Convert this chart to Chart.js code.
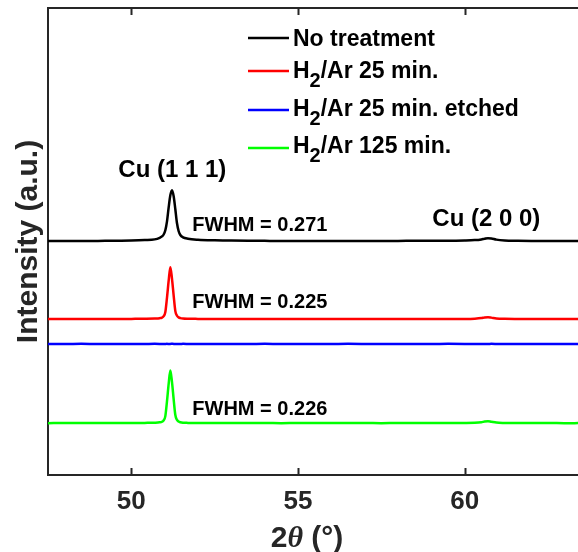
<!DOCTYPE html>
<html>
<head>
<meta charset="utf-8">
<title>XRD Cu peaks</title>
<script src="https://cdn.jsdelivr.net/npm/chart.js@4.4.0/dist/chart.umd.min.js"></script>
<style>
  body { margin: 0; background: #fff; overflow: hidden; }
  canvas { display: block; }
</style>
</head>
<body>
<canvas id="xrd" width="578" height="552"></canvas>
<script>
// 2-theta positions (deg), denser around the Cu (111) and Cu (200) reflections
var twoTheta = [47.5, 48.0, 48.5, 49.0, 49.5, 50.0, 50.4, 50.7, 50.85, 50.92,
  50.97, 51.02, 51.07, 51.12, 51.17, 51.22, 51.27, 51.32, 51.37, 51.42,
  51.47, 51.55, 51.7, 52.0, 52.5, 53.0, 53.5, 54.0, 54.5, 55.0,
  55.5, 56.0, 56.5, 57.0, 57.5, 58.0, 58.5, 59.0, 59.5, 60.0,
  60.3, 60.5, 60.6, 60.7, 60.8, 60.95, 61.2, 61.6, 62.0, 62.5,
  63.0, 63.4];

// intensities above each trace's own baseline (a.u.)
var noTreatment = [0.00, 0.02, 0.00, 0.03, 0.05, 0.10, 0.20, 0.35, 0.70, 1.0,
  1.4, 2.3, 4.2, 7.2, 9.8, 10.9, 9.6, 6.8, 3.8, 2.1,
  1.3, 0.8, 0.5, 0.28, 0.15, 0.10, 0.06, 0.04, 0.02, 0.03,
  0.01, 0.02, 0.00, 0.02, 0.01, 0.03, 0.04, 0.06, 0.08, 0.12,
  0.20, 0.35, 0.50, 0.62, 0.55, 0.30, 0.12, 0.06, 0.03, 0.02,
  0.01, 0.00];
var h2Ar25 = [0.00, 0.02, 0.00, 0.02, 0.01, 0.03, 0.05, 0.10, 0.18, 0.30,
  0.6, 1.5, 4.6, 8.2, 11.1, 8.6, 5.0, 1.7, 0.7, 0.35,
  0.20, 0.10, 0.05, 0.03, 0.02, 0.01, 0.03, 0.01, 0.02, 0.00,
  0.02, 0.01, 0.03, 0.01, 0.02, 0.00, 0.02, 0.01, 0.02, 0.03,
  0.08, 0.20, 0.35, 0.40, 0.30, 0.12, 0.04, 0.02, 0.01, 0.02,
  0.00, 0.01];
var h2Ar25Etched = [0.02, 0.00, 0.03, 0.01, 0.02, 0.00, 0.01, 0.03, 0.02, 0.00,
  0.01, 0.02, 0.03, 0.01, 0.02, 0.04, 0.02, 0.01, 0.00, 0.02,
  0.01, 0.03, 0.02, 0.00, 0.01, 0.02, 0.00, 0.03, 0.01, 0.02,
  0.00, 0.01, 0.03, 0.02, 0.00, 0.01, 0.02, 0.01, 0.03, 0.02,
  0.00, 0.01, 0.02, 0.01, 0.03, 0.02, 0.00, 0.01, 0.02, 0.00,
  0.01, 0.02];
var h2Ar125 = [0.00, 0.03, 0.01, 0.02, 0.04, 0.03, 0.06, 0.10, 0.18, 0.30,
  0.6, 1.5, 4.7, 8.4, 11.3, 8.8, 5.1, 1.75, 0.7, 0.35,
  0.20, 0.10, 0.06, 0.04, 0.02, 0.03, 0.01, 0.02, 0.00, 0.02,
  0.01, 0.03, 0.01, 0.02, 0.00, 0.02, 0.01, 0.02, 0.03, 0.04,
  0.08, 0.20, 0.35, 0.42, 0.30, 0.12, 0.05, 0.02, 0.01, 0.02,
  0.00, 0.01];

var seriesLabels = ["No treatment", "H_2/Ar 25 min.", "H_2/Ar 25 min. etched", "H_2/Ar 125 min."];
var seriesColors = ["#000000", "#ff0000", "#0000ff", "#00ff00"];
var seriesOffsets = [50.1, 33.4, 28.05, 11.1];
var xTicks = [50, 55, 60];

var peakNames = ["Cu (1 1 1)", "Cu (2 0 0)"];
var peakNamePos = [[51.23, 65.3], [60.65, 54.8]];
var fwhmValues = [0.271, 0.225, 0.226];
var fwhmPos = [[51.83, 53.5], [51.83, 37.0], [51.83, 14.1]];

var axisColor = "#262626";
var sans = "'Liberation Sans', Arial, Helvetica, sans-serif";

var allSeries = [noTreatment, h2Ar25, h2Ar25Etched, h2Ar125];
var datasets = allSeries.map(function (vals, k) {
  return {
    label: seriesLabels[k],
    data: twoTheta.map(function (x, i) { return { x: x, y: seriesOffsets[k] + vals[i] }; }),
    borderColor: seriesColors[k],
    borderWidth: 2.5,
    pointRadius: 0,
    fill: false,
    cubicInterpolationMode: "monotone"
  };
});

// text with "_2" style subscripts
function drawRichText(ctx, str, x, y, size) {
  var parts = str.split(/_(\d)/);
  for (var i = 0; i < parts.length; i++) {
    if (!parts[i]) continue;
    var sub = i % 2 === 1;
    ctx.font = "bold " + (sub ? size - 3 : size) + "px " + sans;
    ctx.fillText(parts[i], x, sub ? y + 9 : y);
    x += ctx.measureText(parts[i]).width;
  }
}

var decorations = {
  id: "decorations",
  afterDraw: function (chart) {
    var ctx = chart.ctx, area = chart.chartArea;
    var xs = chart.scales.x, ys = chart.scales.y;
    ctx.save();

    // top frame and inward ticks
    ctx.strokeStyle = axisColor;
    ctx.lineWidth = 2;
    ctx.beginPath();
    ctx.moveTo(area.left, area.top);
    ctx.lineTo(area.right, area.top);
    xTicks.forEach(function (v) {
      var px = Math.round(xs.getPixelForValue(v)) + 0.5;
      ctx.moveTo(px, area.bottom);
      ctx.lineTo(px, area.bottom - 7);
      ctx.moveTo(px, area.top);
      ctx.lineTo(px, area.top + 7);
    });
    ctx.stroke();

    // peak names and FWHM notes
    ctx.fillStyle = "#000";
    ctx.textBaseline = "middle";
    ctx.textAlign = "center";
    ctx.font = "bold 24px " + sans;
    peakNames.forEach(function (t, i) {
      ctx.fillText(t, xs.getPixelForValue(peakNamePos[i][0]), ys.getPixelForValue(peakNamePos[i][1]));
    });
    ctx.textAlign = "left";
    ctx.font = "bold 20px " + sans;
    fwhmValues.forEach(function (v, i) {
      ctx.fillText("FWHM = " + v.toFixed(3), xs.getPixelForValue(fwhmPos[i][0]), ys.getPixelForValue(fwhmPos[i][1]));
    });

    // legend
    var rowLine = [38, 71, 110, 148];
    var rowBase = [46, 78, 116, 153];
    ctx.textBaseline = "alphabetic";
    ctx.lineWidth = 2.5;
    seriesLabels.forEach(function (label, i) {
      ctx.strokeStyle = seriesColors[i];
      ctx.beginPath();
      ctx.moveTo(248, rowLine[i]);
      ctx.lineTo(289, rowLine[i]);
      ctx.stroke();
      ctx.fillStyle = "#000";
      drawRichText(ctx, label, 293, rowBase[i], 23);
    });

    // x axis title: 2θ (°)
    ctx.fillStyle = axisColor;
    var pieces = [["2", "bold 30px " + sans], ["\u03b8", "italic bold 30px 'Liberation Serif', serif"], [" (\u00b0)", "bold 30px " + sans]];
    var total = 0;
    pieces.forEach(function (p) { ctx.font = p[1]; total += ctx.measureText(p[0]).width; });
    var tx = (area.left + area.right) / 2 - 6 - total / 2;
    pieces.forEach(function (p) {
      ctx.font = p[1];
      ctx.fillText(p[0], tx, 547);
      tx += ctx.measureText(p[0]).width;
    });

    // y axis title
    ctx.translate(37, (area.top + area.bottom) / 2);
    ctx.rotate(-Math.PI / 2);
    ctx.textAlign = "center";
    ctx.font = "bold 30px " + sans;
    ctx.fillText("Intensity (a.u.)", 0, 0);
    ctx.restore();
  }
};

new Chart(document.getElementById("xrd").getContext("2d"), {
  type: "line",
  data: { datasets: datasets },
  options: {
    responsive: false,
    animation: false,
    layout: { padding: { top: 8, right: 0, left: 0, bottom: 0 } },
    plugins: { legend: { display: false }, tooltip: { enabled: false } },
    scales: {
      x: {
        type: "linear",
        min: 47.5,
        max: 63.4,
        grid: { display: false, drawTicks: false },
        border: { display: true, color: axisColor, width: 2 },
        ticks: {
          stepSize: 5,
          includeBounds: false,
          padding: 11,
          color: axisColor,
          font: { family: sans, size: 26, weight: "bold" }
        },
        afterFit: function (scale) { scale.height = 77; }
      },
      y: {
        min: 0,
        max: 100,
        grid: { display: false, drawTicks: false },
        border: { display: true, color: axisColor, width: 2 },
        ticks: { display: false },
        afterFit: function (scale) { scale.width = 48; }
      }
    }
  },
  plugins: [decorations]
});
</script>
</body>
</html>
